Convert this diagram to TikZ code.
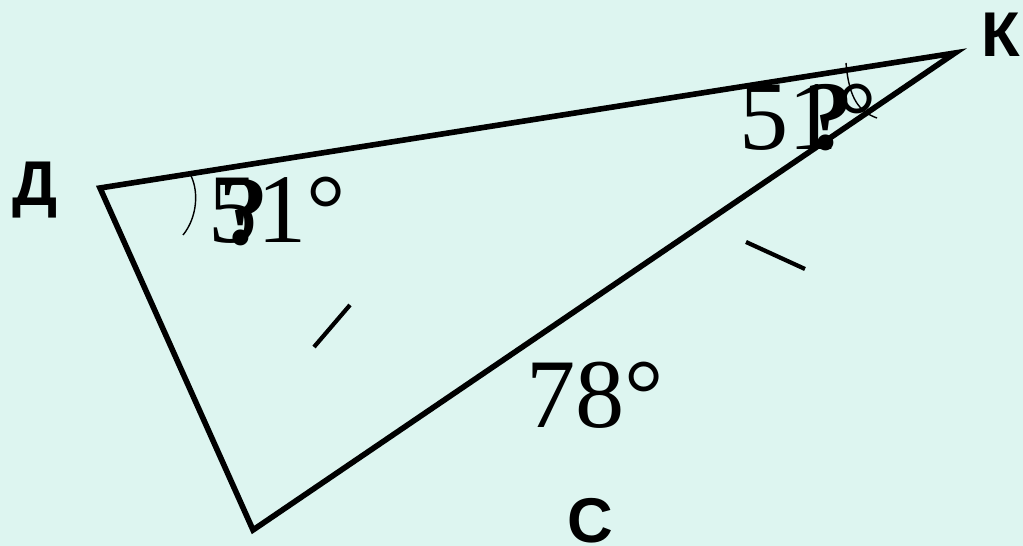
\documentclass[tikz,border=0pt]{standalone}
\usepackage{fontspec}
\setmainfont{Liberation Serif}
\newfontfamily\labelfont{Liberation Sans}
\definecolor{mintbg}{RGB}{221,245,240}

\begin{document}
\begin{tikzpicture}[x=0.02cm,y=-0.02cm,
  side/.style={line width=3.2pt,line join=miter},
  tick/.style={line width=2.4pt},
  anglearc/.style={line width=0.8pt},
  vlabel/.style={font=\labelfont\bfseries\fontsize{36}{40}\selectfont,inner sep=0pt},
  deg/.style={font=\fontsize{56}{60}\selectfont,inner sep=0pt,anchor=base west}]
\fill[mintbg] (0,0) rectangle (1023,546);
\useasboundingbox (0,0) rectangle (1023,546);
\coordinate (D) at (100,188);
\coordinate (K) at (955,53);
\coordinate (C) at (253,530);
\draw[side] (D) -- (K) -- (C) -- cycle;
\node[vlabel] (lD) at (35,190){Д};
\node[vlabel] (lK) at (1001,35){К};
\node[vlabel] (lC) at (590,521){С};
\draw[anglearc] (189,172) .. controls (200,190) and (197,218) .. (183,235);
\draw[anglearc] (846,63) .. controls (849,100) and (860,112) .. (877,118);
\draw[tick] (314,347) -- (350,305);
\draw[tick] (746,242) -- (805,269);
\node[deg] (aD) at (208,243){51°};
\node[deg,font=\bfseries\fontsize{56}{60}\selectfont] (qD) at (219,245){?};
\node[deg] (aK) at (739,150){51°};
\node[deg,font=\bfseries\fontsize{56}{60}\selectfont] (qK) at (804,150){?};
\node[deg] (aC) at (526,428){78°};
\end{tikzpicture}
\end{document}
